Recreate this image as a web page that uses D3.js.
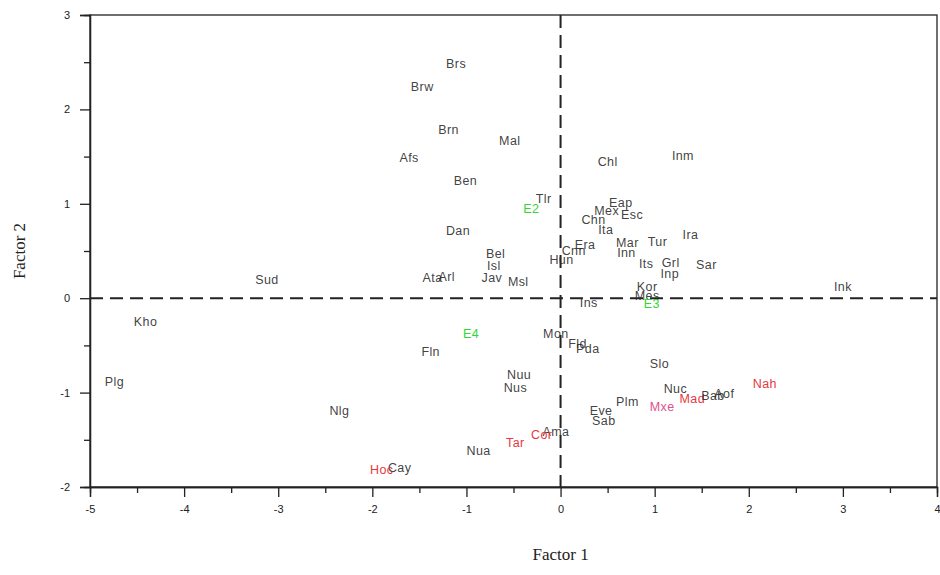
<!DOCTYPE html>
<html>
<head>
<meta charset="utf-8">
<script src="https://cdn.jsdelivr.net/npm/d3@7"></script>
<style>
  body { margin:0; background:#fff; }
  .lbl { font-family: Arial, "Liberation Sans", sans-serif; font-size:12.5px; letter-spacing:0.4px; }
  .title { font-family: "Liberation Serif", "DejaVu Serif", serif; font-size:17px; fill:#222; }
</style>
</head>
<body>
<svg id="chart"></svg>
<script>
const W = 940, H = 575;

// Sample labels and their scores on the two factors
const LABELS = ['Brs','Brw','Brn','Mal','Afs','Ben','Tlr','E2','Chl','Inm','Eap','Mex','Esc','Chn','Ita',
  'Era','Cnn','Hun','Mar','Tur','Ira','Inn','Its','Grl','Inp','Sar','Kor','Mes','E3','Ins','Ink',
  'Dan','Bel','Isl','Jav','Msl','Ata','Arl','Sud','Kho','Plg','Nlg','Fln','E4','Mon','Fld','Pda',
  'Nuu','Nus','Slo','Nuc','Mad','Bab','Aof','Nah','Mxe','Plm','Eve','Sab','Ama','Cor','Tar','Nua','Cay','Hoc'];
const F1 = [-1.11,-1.47,-1.19,-0.54,-1.61,-1.01,-0.18,-0.31,0.50,1.30,0.64,0.49,0.76,0.35,0.48,
  0.26,0.14,0.01,0.71,1.03,1.38,0.70,0.91,1.17,1.16,1.55,0.92,0.92,0.97,0.30,3.00,
  -1.09,-0.69,-0.71,-0.73,-0.45,-1.36,-1.21,-3.12,-4.41,-4.74,-2.35,-1.38,-0.95,-0.05,0.18,0.29,
  -0.44,-0.48,1.05,1.22,1.40,1.62,1.74,2.17,1.08,0.71,0.43,0.46,-0.05,-0.20,-0.48,-0.87,-1.71,-1.90];
const F2 = [2.48,2.24,1.78,1.67,1.48,1.24,1.05,0.94,1.44,1.51,1.01,0.92,0.88,0.83,0.72,
  0.56,0.50,0.40,0.59,0.60,0.67,0.48,0.36,0.37,0.26,0.35,0.12,0.02,-0.06,-0.05,0.12,
  0.71,0.47,0.34,0.21,0.17,0.21,0.22,0.19,-0.25,-0.89,-1.19,-0.57,-0.38,-0.38,-0.49,-0.54,
  -0.81,-0.95,-0.70,-0.96,-1.07,-1.04,-1.01,-0.91,-1.15,-1.10,-1.19,-1.30,-1.42,-1.45,-1.53,-1.62,-1.80,-1.82];
// group: 0 = black, 1 = red, 2 = green (E points), 3 = pink
const GROUP = [0,0,0,0,0,0,0,2,0,0,0,0,0,0,0,
  0,0,0,0,0,0,0,0,0,0,0,0,0,2,0,0,
  0,0,0,0,0,0,0,0,0,0,0,0,2,0,0,0,
  0,0,0,0,1,0,0,1,3,0,0,0,0,1,1,0,0,1];

const X_TICKS = [-5,-4,-3,-2,-1,0,1,2,3,4];
const Y_TICKS = [-2,-1,0,1,2,3];

const GC = ['#2a2a2a','#e5393f','#33d633','#e2508e'];

const x = d3.scaleLinear().domain([-5,4]).range([90, 937]);
const y = d3.scaleLinear().domain([-2,3]).range([487, 15]);

const svg = d3.select('#chart').attr('width',W).attr('height',H);

// frame
svg.append('rect').attr('x',x(-5)).attr('y',y(3))
  .attr('width',x(4)-x(-5)).attr('height',y(-2)-y(3))
  .attr('fill','none').attr('stroke','#222').attr('stroke-width',1.3);

// axes with major and minor ticks
svg.append('g').attr('transform',`translate(0,${y(-2)})`)
  .call(d3.axisBottom(x).tickValues(X_TICKS).tickSize(10).tickPadding(8).tickFormat(d => String(d)));
svg.append('g').attr('transform',`translate(0,${y(-2)})`)
  .call(d3.axisBottom(x).tickValues(d3.range(-4.5,4,1)).tickSize(6).tickFormat(''));
svg.append('g').attr('transform',`translate(${x(-5)},0)`)
  .call(d3.axisLeft(y).tickValues(Y_TICKS).tickSize(10).tickPadding(10).tickFormat(d => String(d)));
svg.append('g').attr('transform',`translate(${x(-5)},0)`)
  .call(d3.axisLeft(y).tickValues(d3.range(-1.5,3,1)).tickSize(6).tickFormat(''));
svg.selectAll('.domain').attr('stroke','#222').attr('stroke-width',1.3);
svg.selectAll('.tick line').attr('stroke','#222').attr('stroke-width',1.3);
svg.selectAll('g.tick text')
  .style('font-family','Arial, "Liberation Sans", sans-serif')
  .style('font-size','11px').attr('fill','#222');

// zero reference lines
svg.append('line').attr('x1',x(-5)).attr('x2',x(4)).attr('y1',y(0)).attr('y2',y(0))
  .attr('stroke','#222').attr('stroke-width',2).attr('stroke-dasharray','13,7');
svg.append('line').attr('x1',x(0)).attr('x2',x(0)).attr('y1',y(3)).attr('y2',y(-2))
  .attr('stroke','#222').attr('stroke-width',2).attr('stroke-dasharray','13,7');

// labels
const pts = LABELS.map((n,i) => ({n, f1:F1[i], f2:F2[i], g:GROUP[i]}));
svg.append('g').selectAll('text').data(pts).join('text')
  .attr('class','lbl')
  .attr('x', d => x(d.f1)).attr('y', d => y(d.f2))
  .attr('text-anchor','middle').attr('dominant-baseline','central')
  .attr('fill', d => GC[d.g]).attr('fill-opacity', d => d.g===0 ? .9 : 1)
  .text(d => d.n);

// axis titles
svg.append('text').attr('class','title').attr('x',x(0)).attr('y',560)
  .attr('text-anchor','middle').text('Factor 1');
svg.append('text').attr('class','title')
  .attr('transform',`translate(25,${y(0.5)}) rotate(-90)`)
  .attr('text-anchor','middle').text('Factor 2');
</script>
</body>
</html>
